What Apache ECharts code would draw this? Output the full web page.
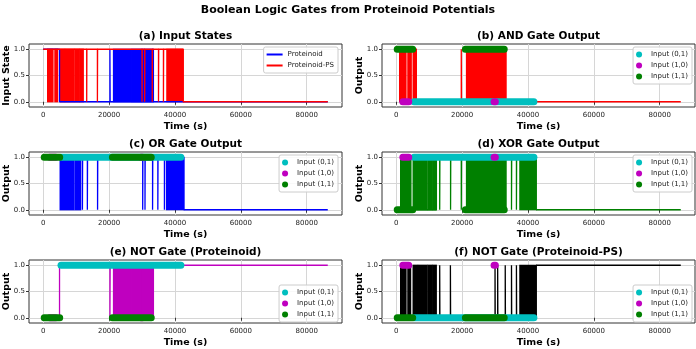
<!DOCTYPE html>
<html>
<head>
<meta charset="utf-8">
<script src="https://cdn.jsdelivr.net/npm/echarts@6/dist/echarts.min.js"></script>
<style>
  html, body { margin: 0; padding: 0; background: #fff; }
  #chart { width: 696px; height: 349px; }
</style>
</head>
<body>
<div id="chart"></div>
<script>
// time axis runs 0..86400 s, ticks every 20000
const timeEnd = 86400;
const xTickValues = [0, 20000, 40000, 60000, 80000];
const yTickValues = [0, 0.5, 1];

// each trace: level at t=0, toggle times, spans of fast switching (drawn solid)
const protStart = 1;
const protFlips = [4950, 20250, 20330];
const protBands = [[21300, 26800], [27000, 29850], [30050, 33500]];

const psStart = 1;
const psFlips = [13200, 13260, 16450, 16510, 30000, 30060, 30800, 30860, 33100, 33160, 35000, 35060, 36500, 36560, 42500];
const psBands = [[1300, 3000], [3500, 4400], [5100, 6500], [6700, 9400], [9600, 11000], [11200, 12200], [37500, 42500]];

const andStart = 1;
const andFlips = [6100, 19750, 19810];
const andBands = [[1000, 3000], [3500, 4600], [5100, 6100], [21300, 33400]];

const orStart = 1;
const orFlips = [11900, 11960, 13400, 13460, 16500, 16560, 30200, 30260, 30900, 30960, 33200, 33260, 34800, 34860, 36800, 36860, 42700];
const orBands = [[5100, 9400], [9700, 11400], [37400, 42700]];

const xorStart = 0;
const xorFlips = [12200, 13200, 13260, 16500, 16560, 19750, 19810, 35000, 35060, 36500, 36560, 42500];
const xorBands = [[1300, 3500], [3700, 4500], [5100, 6500], [6700, 9400], [9600, 11000], [11200, 12200], [21300, 33400], [37500, 42500]];

const notPStart = 0;
const notPFlips = [4950, 20250, 20330];
const notPBands = [[21300, 26800], [27000, 29850], [30050, 33500]];

const notPsStart = 0;
const notPsFlips = [13200, 13260, 16450, 16510, 30000, 30060, 30800, 30860, 33100, 33160, 35000, 35060, 36500, 36560, 42500];
const notPsBands = [[1300, 3000], [3500, 4400], [5100, 6500], [6700, 9400], [9600, 11000], [11200, 12200], [37500, 42500]];

// where each input pair occurs (marker runs, start..end in s)
const comboNames = ['Input (0,1)', 'Input (1,0)', 'Input (1,1)'];
const runs01 = [[5400, 41800]];
const runs10 = [[2000, 3800], [29700, 30100]];
const runs11 = [[300, 5000], [21000, 32800]];

// gate output for (0,1), (1,0), (1,1)
const andOut = [0, 0, 1];
const orOut = [1, 1, 1];
const xorOut = [1, 1, 0];
const notPOut = [1, 0, 0];
const notPsOut = [0, 1, 0];

const FONT = 'DejaVu Sans';
const comboColors = ['#00bfbf', '#bf00bf', '#008000'];
const cols = [29, 382];
const rows = [44, 152, 260];
const gw = 313, gh = 63;

// y range -0.1..1.1 split in 0.1 slots for the labelled overlay axis
const ySlots = [];
for (let k = 0; k <= 12; k++) ySlots.push((k - 1) / 10);
const isYTick = (idx) => yTickValues.some((v) => Math.abs(v - ySlots[idx]) < 1e-9);

const grid = [], xAxis = [], yAxis = [], yOverlay = [], series = [], legend = [], title = [], graphic = [];

title.push({
  text: 'Boolean Logic Gates from Proteinoid Potentials',
  left: 348, top: 10, textAlign: 'center', textVerticalAlign: 'middle', padding: 0,
  textStyle: { fontFamily: FONT, fontSize: 11, fontWeight: 'bold', color: '#000' }
});

function stepPoints(start, flips) {
  const pts = [[0, start]];
  let v = start;
  flips.forEach((t) => {
    pts.push([t, v]);
    v = 1 - v;
    pts.push([t, v]);
  });
  pts.push([timeEnd, v]);
  return pts;
}

function addAxes(i, label, yName) {
  const col = i % 2;
  const row = Math.floor(i / 2);
  grid.push({
    left: cols[col], top: rows[row], width: gw, height: gh,
    show: true, borderColor: '#333', borderWidth: 1
  });
  xAxis.push({
    gridIndex: i, type: 'value', min: -4320, max: 90720,
    name: 'Time (s)', nameLocation: 'middle', nameGap: 15,
    nameTextStyle: { fontFamily: FONT, fontSize: 9.5, fontWeight: 'bold', color: '#000' },
    axisLine: { show: false },
    axisTick: { show: true, customValues: xTickValues, length: 3, lineStyle: { color: '#333' } },
    axisLabel: { customValues: xTickValues, formatter: (v) => String(v), fontFamily: FONT, fontSize: 7, color: '#222', margin: 5 },
    splitLine: { show: true, lineStyle: { color: '#d6d6d6', width: 1 } }
  });
  // data axis (hidden), the visible ticks come from the overlay below
  yAxis.push({ gridIndex: i, type: 'value', min: -0.1, max: 1.1, show: false });
  yOverlay.push({
    gridIndex: i, type: 'category', position: 'left', boundaryGap: false,
    data: ySlots.map((v) => v.toFixed(1)),
    axisLine: { show: false },
    axisTick: { show: true, interval: (idx) => isYTick(idx), length: 3, lineStyle: { color: '#333' } },
    axisLabel: { interval: (idx) => isYTick(idx), fontFamily: FONT, fontSize: 7, color: '#222', margin: 4 },
    splitLine: { show: true, interval: (idx) => isYTick(idx), lineStyle: { color: '#d6d6d6', width: 1 } }
  });
  graphic.push({
    type: 'text', silent: true,
    x: cols[col] - 22.5, y: rows[row] + gh / 2, rotation: Math.PI / 2,
    style: { text: yName, fill: '#000', font: 'bold 9.5px "DejaVu Sans"', align: 'center', verticalAlign: 'middle' }
  });
  title.push({
    text: label,
    left: cols[col] + gw / 2, top: [36, 144, 252.5][row],
    textAlign: 'center', textVerticalAlign: 'middle', padding: 0,
    textStyle: { fontFamily: FONT, fontSize: 10.5, fontWeight: 'bold', color: '#000' }
  });
}

function addTrace(i, name, color, start, flips, bands) {
  series.push({
    type: 'line', name, xAxisIndex: i, yAxisIndex: i,
    data: stepPoints(start, flips),
    showSymbol: false, symbol: 'none', silent: true,
    lineStyle: { color, width: 1.3 }, itemStyle: { color }
  });
  series.push({
    type: 'custom', xAxisIndex: i, yAxisIndex: i, silent: true,
    data: bands,
    encode: { x: [0, 1] },
    renderItem: (params, api) => {
      const a = api.coord([api.value(0), 1]);
      const b = api.coord([api.value(1), 0]);
      return {
        type: 'rect',
        shape: { x: a[0] - 0.5, y: a[1] - 0.6, width: Math.max(b[0] - a[0], 0) + 1, height: b[1] - a[1] + 1.2 },
        style: { fill: color }
      };
    }
  });
}

function addMarkers(i, out) {
  [runs01, runs10, runs11].forEach((runs, k) => {
    const data = [];
    runs.forEach((r, j) => {
      if (j) data.push([r[0], '-']);
      data.push([r[0], out[k]], [r[1], out[k]]);
    });
    series.push({
      type: 'line', name: comboNames[k], xAxisIndex: i, yAxisIndex: i,
      data, showSymbol: false, symbol: 'none', silent: true, connectNulls: false,
      lineStyle: { color: comboColors[k], width: 7, cap: 'round' },
      itemStyle: { color: comboColors[k] }
    });
  });
}

function addLegend(i, names, icon, itemWidth, itemHeight) {
  const col = i % 2;
  const row = Math.floor(i / 2);
  const pos = { right: col ? 4 : 358 };
  if (row === 2) pos.bottom = 27; else pos.top = rows[row] + 3;
  legend.push(Object.assign(pos, {
    orient: 'vertical', selectedMode: false,
    data: names.map((n) => ({ name: n, icon })),
    itemWidth, itemHeight, itemGap: 2,
    padding: [3, 4, 3, 3],
    backgroundColor: 'rgba(255,255,255,0.85)', borderColor: '#cccccc', borderWidth: 1, borderRadius: 2,
    textStyle: { fontFamily: FONT, fontSize: 7, color: '#222', lineHeight: 9 }
  }));
}

// (a) inputs
addAxes(0, '(a) Input States', 'Input State');
addTrace(0, 'Proteinoid', '#0000ff', protStart, protFlips, protBands);
addTrace(0, 'Proteinoid-PS', '#ff0000', psStart, psFlips, psBands);
addLegend(0, ['Proteinoid', 'Proteinoid-PS'], 'rect', 16, 2);

const gates = [
  ['(b) AND Gate Output', '#ff0000', andStart, andFlips, andBands, andOut],
  ['(c) OR Gate Output', '#0000ff', orStart, orFlips, orBands, orOut],
  ['(d) XOR Gate Output', '#008000', xorStart, xorFlips, xorBands, xorOut],
  ['(e) NOT Gate (Proteinoid)', '#bf00bf', notPStart, notPFlips, notPBands, notPOut],
  ['(f) NOT Gate (Proteinoid-PS)', '#000000', notPsStart, notPsFlips, notPsBands, notPsOut]
];
gates.forEach((g, n) => {
  const i = n + 1;
  addAxes(i, g[0], 'Output');
  addTrace(i, g[0] + ' line', g[1], g[2], g[3], g[4]);
  addMarkers(i, g[5]);
  addLegend(i, comboNames, 'circle', 14, 6);
});

const chart = echarts.init(document.getElementById('chart'), null, { renderer: 'canvas' });
chart.setOption({
  backgroundColor: '#ffffff',
  animation: false,
  title, grid, xAxis,
  yAxis: yAxis.concat(yOverlay),
  legend, series, graphic
});
</script>
</body>
</html>
